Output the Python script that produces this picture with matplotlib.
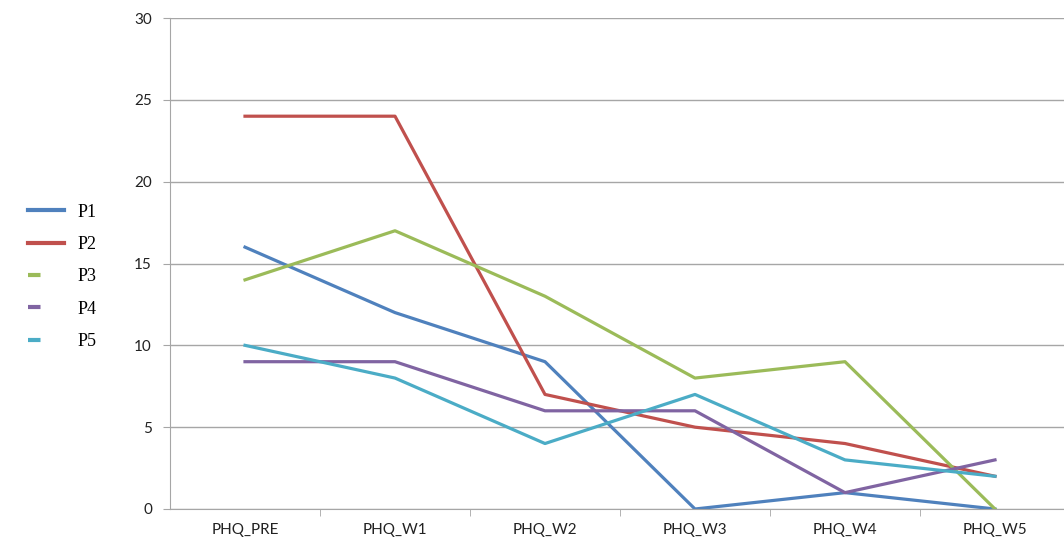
import matplotlib
matplotlib.use("Agg")
import matplotlib.pyplot as plt
from matplotlib.lines import Line2D

categories = ["PHQ_PRE", "PHQ_W1", "PHQ_W2", "PHQ_W3", "PHQ_W4", "PHQ_W5"]
p1 = [16, 12, 9, 0, 1, 0]
p2 = [24, 24, 7, 5, 4, 2]
p3 = [14, 17, 13, 8, 9, 0]
p4 = [9, 9, 6, 6, 1, 3]
p5 = [10, 8, 4, 7, 3, 2]
series_names = ["P1", "P2", "P3", "P4", "P5"]
y_ticks = [0, 5, 10, 15, 20, 25, 30]

colors = ["#4F81BD", "#C0504D", "#9BBB59", "#8064A2", "#4BACC6"]

fig = plt.figure(figsize=(10.64, 5.51), dpi=100)
ax = fig.add_axes([170 / 1064, 1 - 509 / 551, (1064 - 170) / 1064, (509 - 18) / 551])

x = list(range(len(categories)))
for vals, c, name in zip([p1, p2, p3, p4, p5], colors, series_names):
    ax.plot(x, vals, color=c, lw=2.3, label=name, solid_joinstyle="round")

ax.set_xlim(-0.5, 5.46)
ax.set_ylim(0, 30)
ax.set_yticks(y_ticks)
ax.set_xticks(x)
ax.set_xticklabels(categories)
ax.set_xticks([i + 0.5 for i in range(5)], minor=True)

grid_c = "#A6A6A6"
ax.grid(axis="y", color=grid_c, lw=1.0)
ax.set_axisbelow(True)
for s in ["top", "right"]:
    ax.spines[s].set_visible(False)
ax.spines["left"].set_color(grid_c)
ax.spines["bottom"].set_color(grid_c)
ax.tick_params(axis="y", length=5, color=grid_c, labelsize=11, pad=8, labelcolor="#222222")
ax.tick_params(axis="x", which="major", length=0, labelsize=11, pad=10, labelcolor="#222222")
ax.tick_params(axis="x", which="minor", length=5, color=grid_c)
for lab in ax.get_xticklabels() + ax.get_yticklabels():
    lab.set_family("Lato")

# legend: first two keys drawn full length, the rest as short stubs
styles = ["-", "-", (0, (3, 100)), (0, (3, 100)), (0, (3, 100))]
handles = [Line2D([], [], color=c, lw=3, linestyle=ls) for c, ls in zip(colors, styles)]
fig.legend(handles, series_names, loc="upper left", bbox_to_anchor=(0.011, 0.66),
           frameon=False, prop={"family": "Liberation Serif", "size": 13},
           handlelength=2.0, handletextpad=0.75, labelspacing=0.85)

fig.savefig("out.png", dpi=100)
